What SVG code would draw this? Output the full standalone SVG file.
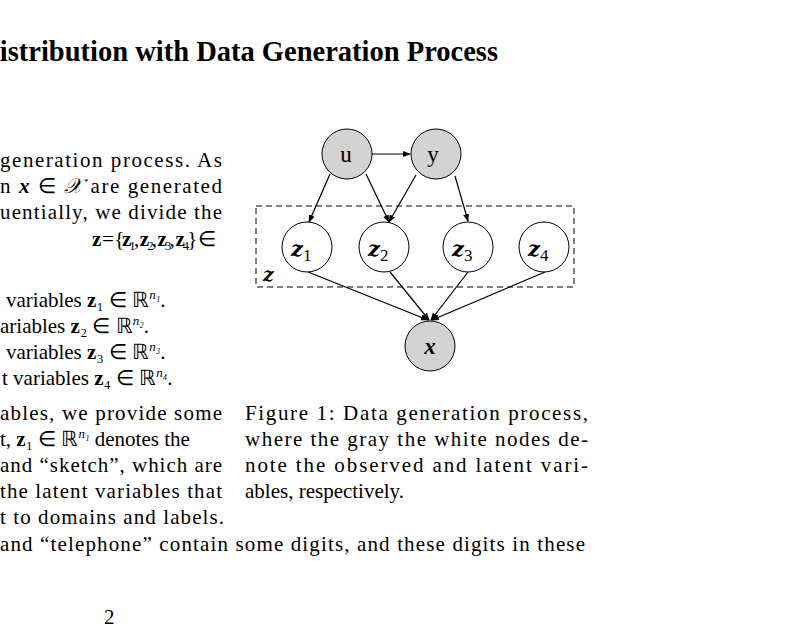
<svg xmlns="http://www.w3.org/2000/svg" width="802" height="640" viewBox="0 0 802 640">
<style>
text{font-family:"Liberation Serif",serif;fill:#000}
.b{font-size:21px}
.n{stroke:#000;stroke-width:1}
.g{fill:#d3d3d3}
.w{fill:#fff}
.lbl{font-size:23px;text-anchor:middle}
.zl{font-family:"DejaVu Serif",serif;font-size:21px;font-weight:bold;font-style:italic}
.e{stroke:#000;stroke-width:1.2;fill:none;marker-end:url(#a)}
</style>
<defs><marker id="a" markerWidth="8" markerHeight="8" refX="7" refY="4" orient="auto" markerUnits="userSpaceOnUse"><path d="M0,1 L8,4 L0,7z" fill="#000"/></marker></defs>
<rect width="802" height="640" fill="#fff"/>
<text x="498" y="61" text-anchor="end" style="font-size:28.5px;font-weight:bold">Distribution with Data Generation Process</text>
<g>
<text x="0" y="167" class="b" textLength="222" lengthAdjust="spacing">generation process.  As</text>
<text x="0" y="193" class="b" textLength="222" lengthAdjust="spacing">n <tspan font-style="italic" font-weight="bold">x</tspan> ∈ <tspan font-style="italic">𝒳</tspan> are generated</text>
<text x="0" y="219" class="b" textLength="222" lengthAdjust="spacing">uentially, we divide the</text>
<text x="92" y="246" class="b" textLength="124" lengthAdjust="spacing"><tspan font-weight="bold">z</tspan> = {<tspan font-weight="bold">z</tspan>₁, <tspan font-weight="bold">z</tspan>₂, <tspan font-weight="bold">z</tspan>₃, <tspan font-weight="bold">z</tspan>₄} ∈</text>
<text x="6" y="307" class="b">variables <tspan font-weight="bold">z</tspan>₁ ∈ ℝ<tspan font-size="13" dy="-8" font-style="italic">n₁</tspan><tspan dy="8">.</tspan></text>
<text x="0" y="333" class="b">ariables <tspan font-weight="bold">z</tspan>₂ ∈ ℝ<tspan font-size="13" dy="-8" font-style="italic">n₂</tspan><tspan dy="8">.</tspan></text>
<text x="6" y="359" class="b">variables <tspan font-weight="bold">z</tspan>₃ ∈ ℝ<tspan font-size="13" dy="-8" font-style="italic">n₃</tspan><tspan dy="8">.</tspan></text>
<text x="2" y="385" class="b">t variables <tspan font-weight="bold">z</tspan>₄ ∈ ℝ<tspan font-size="13" dy="-8" font-style="italic">n₄</tspan><tspan dy="8">.</tspan></text>
<text x="0" y="420" class="b" textLength="222" lengthAdjust="spacing">ables, we provide some</text>
<text x="0" y="446" class="b">t, <tspan font-weight="bold">z</tspan>₁ ∈ ℝ<tspan font-size="13" dy="-8" font-style="italic">n₁</tspan><tspan dy="8"> denotes the</tspan></text>
<text x="0" y="472" class="b" textLength="222" lengthAdjust="spacing">and “sketch”, which are</text>
<text x="0" y="498" class="b" textLength="222" lengthAdjust="spacing">the latent variables that</text>
<text x="0" y="524" class="b" textLength="224" lengthAdjust="spacing">t to domains and labels.</text>
<text x="0" y="551" class="b" textLength="585" lengthAdjust="spacing">and “telephone” contain some digits, and these digits in these</text>
<text x="245" y="420" class="b" textLength="343" lengthAdjust="spacing">Figure 1:  Data generation process,</text>
<text x="245" y="446" class="b" textLength="343" lengthAdjust="spacing">where the gray the white nodes de-</text>
<text x="245" y="472" class="b" textLength="343" lengthAdjust="spacing">note the observed and latent vari-</text>
<text x="245" y="498" class="b">ables, respectively.</text>
<text x="104" y="624" class="b">2</text>
</g>
<g id="connectors">
<line class="e" x1="372" y1="154" x2="410" y2="154"/>
<line class="e" x1="330" y1="174" x2="309" y2="222"/>
<line class="e" x1="366" y1="174" x2="389" y2="222"/>
<line class="e" x1="416" y1="175" x2="389" y2="222"/>
<line class="e" x1="455" y1="176" x2="468" y2="221"/>
<line class="e" x1="308" y1="272" x2="428" y2="320"/>
<line class="e" x1="390" y1="272" x2="429" y2="320"/>
<line class="e" x1="468" y1="272" x2="431" y2="320"/>
<line class="e" x1="545" y1="272" x2="432" y2="320"/>
</g>
<g id="plate"><rect x="256" y="206" width="318" height="81" fill="none" stroke="#000" stroke-dasharray="6,4"/>
<text x="263" y="281" class="zl" style="font-size:19px">z</text></g>
<g id="u"><circle class="n g" cx="347" cy="154" r="25"/><text class="lbl" x="346" y="162">u</text></g>
<g id="y"><circle class="n g" cx="436" cy="154" r="25"/><text class="lbl" x="433" y="162">y</text></g>
<g id="z1"><circle class="n w" cx="307" cy="247" r="25"/><text x="291" y="256" class="zl">z<tspan font-family="Liberation Serif" font-weight="normal" font-style="normal" font-size="17" dy="5">1</tspan></text></g>
<g id="z2"><circle class="n w" cx="384" cy="247" r="25"/><text x="368" y="256" class="zl">z<tspan font-family="Liberation Serif" font-weight="normal" font-style="normal" font-size="17" dy="5">2</tspan></text></g>
<g id="z3"><circle class="n w" cx="468" cy="247" r="25"/><text x="452" y="256" class="zl">z<tspan font-family="Liberation Serif" font-weight="normal" font-style="normal" font-size="17" dy="5">3</tspan></text></g>
<g id="z4"><circle class="n w" cx="544" cy="247" r="25"/><text x="528" y="256" class="zl">z<tspan font-family="Liberation Serif" font-weight="normal" font-style="normal" font-size="17" dy="5">4</tspan></text></g>
<g id="x"><circle class="n g" cx="430" cy="346" r="25"/><text class="lbl" x="430" y="354" style="font-weight:bold;font-style:italic">x</text></g>
</svg>
